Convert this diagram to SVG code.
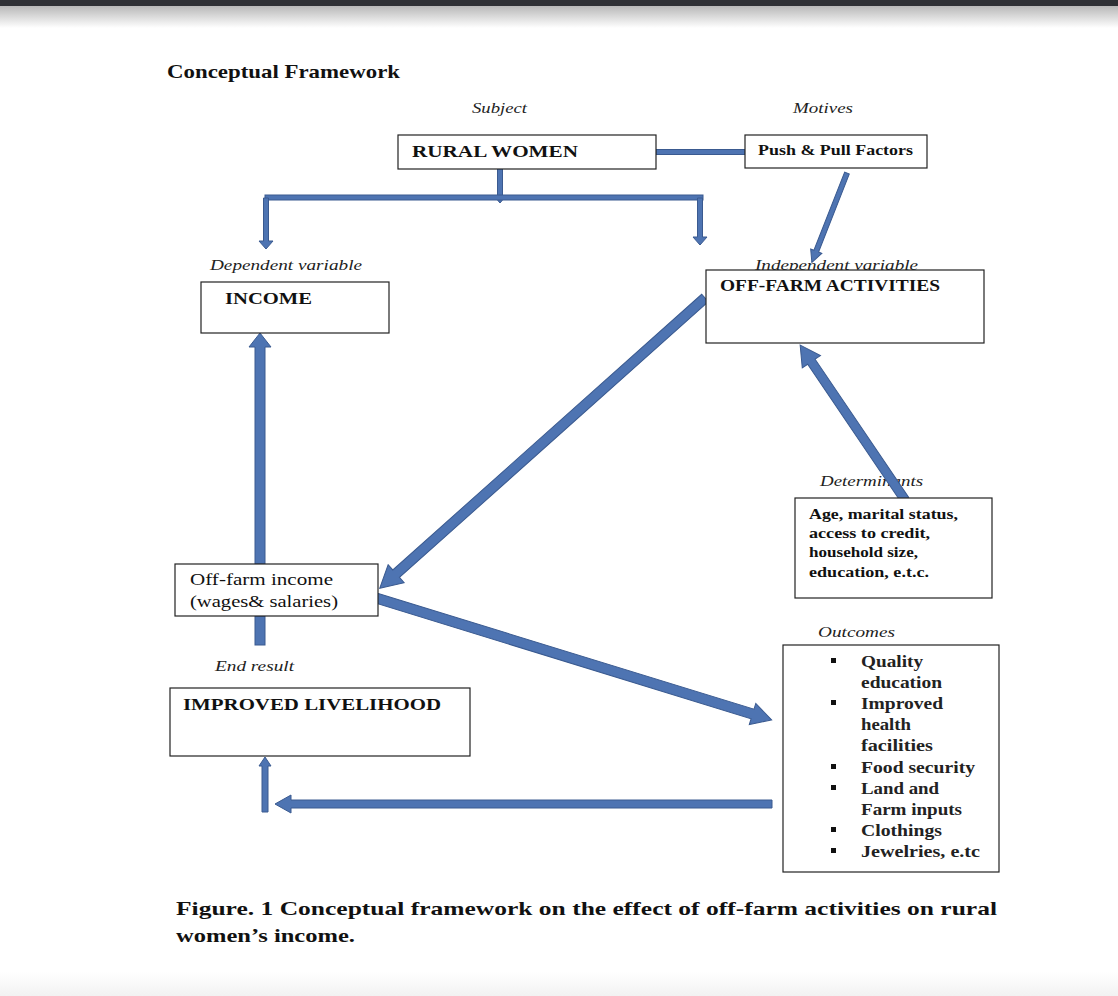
<svg xmlns="http://www.w3.org/2000/svg" width="1118" height="996" viewBox="0 0 1118 996">
<defs>
<linearGradient id="topShadow" x1="0" y1="0" x2="0" y2="1">
<stop offset="0" stop-color="#b8b8b8"/>
<stop offset="1" stop-color="#ffffff"/>
</linearGradient>
<linearGradient id="botShadow" x1="0" y1="0" x2="0" y2="1">
<stop offset="0" stop-color="#ffffff"/>
<stop offset="1" stop-color="#f2f2f2"/>
</linearGradient>
<style>
.box{fill:#fff;stroke:#222;stroke-width:1.2}
.lbl{font-family:"Liberation Serif",serif;font-weight:bold;fill:#111}
.it{font-family:"Liberation Serif",serif;font-style:italic;font-size:14.5px;fill:#222}
.arr{fill:#4e74b2;stroke:#3a5a90;stroke-width:1}
</style>
</defs>
<rect width="1118" height="996" fill="#fff"/>
<rect x="0" y="6" width="1118" height="22" fill="url(#topShadow)"/>
<rect x="0" y="0" width="1118" height="6" fill="#2f3035"/>
<rect x="0" y="972" width="1118" height="24" fill="url(#botShadow)"/>

<text class="lbl" x="167" y="78" font-size="19.5" textLength="233" lengthAdjust="spacingAndGlyphs">Conceptual Framework</text>
<text class="it" x="472" y="113" textLength="55" lengthAdjust="spacingAndGlyphs">Subject</text>
<text class="it" x="793" y="113" textLength="60" lengthAdjust="spacingAndGlyphs">Motives</text>
<text class="it" x="210" y="270" textLength="152" lengthAdjust="spacingAndGlyphs">Dependent variable</text>
<text class="it" x="755" y="270" textLength="163" lengthAdjust="spacingAndGlyphs">Independent variable</text>
<text class="it" x="820" y="486" textLength="103" lengthAdjust="spacingAndGlyphs">Determinants</text>
<text class="it" x="215" y="671" textLength="79" lengthAdjust="spacingAndGlyphs">End result</text>
<text class="it" x="818" y="637" textLength="77" lengthAdjust="spacingAndGlyphs">Outcomes</text>

<g id="connectors">
<rect class="arr" x="656" y="149.5" width="89" height="5"/>
<path class="arr" d="M497.5,168 L502.5,168 L502.5,197 L505,197 L500,203 L495,197 L497.5,197 Z"/>
<rect class="arr" x="265" y="195" width="438" height="5"/>
<path class="arr" d="M263.5,198 L268.5,198 L268.5,241 L273,241 L266,249 L259,241 L263.5,241 Z"/>
<path class="arr" d="M697.5,198 L702.5,198 L702.5,237 L707,237 L700,245 L693,237 L697.5,237 Z"/>
<g transform="translate(847,173) rotate(111.47)">
<path class="arr" d="M0,-2.5 L84,-2.5 L84,-6 L96,0 L84,6 L84,2.5 L0,2.5 Z"/>
</g>
<g transform="translate(705,298) rotate(138.25)">
<path class="arr" d="M0,-5 L414,-5 L414,-12 L436,0 L414,12 L414,5 L0,5 Z"/>
</g>
<g transform="translate(905,500) rotate(-124.1)">
<path class="arr" d="M0,-4.5 L167,-4.5 L167,-11 L187,0 L167,11 L167,4.5 L0,4.5 Z"/>
</g>
<path class="arr" d="M255,564 L255,347 L249,347 L260,333 L271,347 L265,347 L265,564 Z"/>
<rect class="arr" x="255" y="616" width="10" height="29"/>
<g transform="translate(376,598) rotate(17.12)">
<path class="arr" d="M0,-5 L394,-5 L394,-11 L414,0 L394,11 L394,5 L0,5 Z"/>
</g>
<path class="arr" d="M772,800 L291,800 L291,795 L275,804 L291,813 L291,808 L772,808 Z"/>
<path class="arr" d="M262,812 L262,766 L259,766 L265,757 L271,766 L268,766 L268,812 Z"/>
</g>

<g id="rural-women">
<rect class="box" x="398" y="135" width="258" height="34"/>
<text class="lbl" x="412" y="157" font-size="17" textLength="166" lengthAdjust="spacingAndGlyphs">RURAL WOMEN</text>
</g>
<g id="push-pull">
<rect class="box" x="745" y="135" width="182" height="33"/>
<text class="lbl" x="758" y="155" font-size="15" textLength="155" lengthAdjust="spacingAndGlyphs">Push &amp; Pull Factors</text>
</g>
<g id="income">
<rect class="box" x="201" y="282" width="188" height="51"/>
<text class="lbl" x="225" y="304" font-size="16" textLength="87" lengthAdjust="spacingAndGlyphs">INCOME</text>
</g>
<g id="off-farm-activities">
<rect class="box" x="706" y="270" width="278" height="73"/>
<text class="lbl" x="720" y="291" font-size="16" textLength="220" lengthAdjust="spacingAndGlyphs">OFF-FARM ACTIVITIES</text>
</g>
<g id="determinants">
<rect class="box" x="795" y="498" width="197" height="100"/>
<g class="lbl" font-size="14.5">
<text x="809" y="519" textLength="149" lengthAdjust="spacingAndGlyphs">Age, marital status,</text>
<text x="809" y="538" textLength="121" lengthAdjust="spacingAndGlyphs">access to credit,</text>
<text x="809" y="557" textLength="109" lengthAdjust="spacingAndGlyphs">household size,</text>
<text x="809" y="577" textLength="120" lengthAdjust="spacingAndGlyphs">education, e.t.c.</text>
</g>
</g>
<g id="off-farm-income">
<rect class="box" x="175" y="564" width="203" height="52"/>
<g font-family="Liberation Serif, serif" font-size="16.5" fill="#111">
<text x="190" y="585" textLength="143" lengthAdjust="spacingAndGlyphs">Off-farm income</text>
<text x="190" y="607" textLength="148" lengthAdjust="spacingAndGlyphs">(wages&amp; salaries)</text>
</g>
</g>
<g id="improved-livelihood">
<rect class="box" x="170" y="688" width="300" height="68"/>
<text class="lbl" x="183" y="710" font-size="16" textLength="258" lengthAdjust="spacingAndGlyphs">IMPROVED LIVELIHOOD</text>
</g>
<g id="outcomes">
<rect class="box" x="783" y="645" width="216" height="227"/>
<g fill="#111">
<rect x="831" y="658" width="5" height="5"/>
<rect x="831" y="700" width="5" height="5"/>
<rect x="831" y="764" width="5" height="5"/>
<rect x="831" y="785" width="5" height="5"/>
<rect x="831" y="827" width="5" height="5"/>
<rect x="831" y="848" width="5" height="5"/>
</g>
<g font-family="Liberation Serif, serif" font-size="16" font-weight="bold" fill="#222">
<text x="861" y="667" textLength="62" lengthAdjust="spacingAndGlyphs">Quality</text>
<text x="861" y="688" textLength="81" lengthAdjust="spacingAndGlyphs">education</text>
<text x="861" y="709" textLength="82" lengthAdjust="spacingAndGlyphs">Improved</text>
<text x="861" y="730" textLength="50" lengthAdjust="spacingAndGlyphs">health</text>
<text x="861" y="751" textLength="72" lengthAdjust="spacingAndGlyphs">facilities</text>
<text x="861" y="773" textLength="114" lengthAdjust="spacingAndGlyphs">Food security</text>
<text x="861" y="794" textLength="78" lengthAdjust="spacingAndGlyphs">Land and</text>
<text x="861" y="815" textLength="101" lengthAdjust="spacingAndGlyphs">Farm inputs</text>
<text x="861" y="836" textLength="81" lengthAdjust="spacingAndGlyphs">Clothings</text>
<text x="861" y="857" textLength="119" lengthAdjust="spacingAndGlyphs">Jewelries, e.tc</text>
</g>
</g>

<text class="lbl" x="176" y="915" font-size="19" textLength="821" lengthAdjust="spacingAndGlyphs">Figure. 1 Conceptual framework on the effect of off-farm activities on rural</text>
<text class="lbl" x="176" y="942" font-size="19" textLength="179" lengthAdjust="spacingAndGlyphs">women’s income.</text>
</svg>
